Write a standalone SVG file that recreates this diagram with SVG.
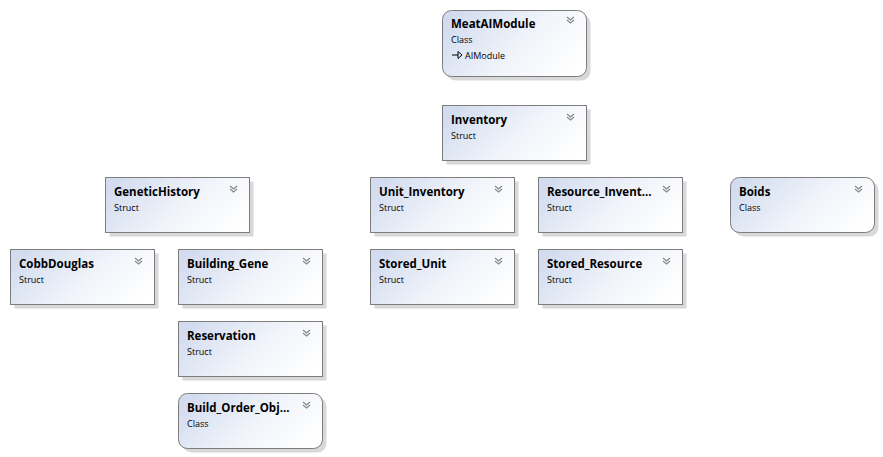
<svg xmlns="http://www.w3.org/2000/svg" width="883" height="457" viewBox="0 0 883 457">
<defs>
<linearGradient id="g" x1="0" y1="0.3" x2="1" y2="0.7">
<stop offset="0" stop-color="#d3dcef"/>
<stop offset="0.55" stop-color="#f1f4fa"/>
<stop offset="1" stop-color="#ffffff"/>
</linearGradient>
<g id="chev">
<path d="M0,0 L3.5,3 L7,0 M0,3 L3.5,6 L7,3" fill="none" stroke="#8a8a8a" stroke-width="1.3"/>
</g>
</defs>
<style>
.sh{fill:#d8d8d8}
.bx{fill:url(#g);stroke:#7d7d7d;stroke-width:1}
.t{font-family:"Open Sans","DejaVu Sans",sans-serif;font-weight:bold;font-size:11.5px;fill:#000}
.s{font-family:"Open Sans","DejaVu Sans",sans-serif;font-size:9px;fill:#000}
</style>
<rect width="883" height="457" fill="#ffffff"/>
<g id="MeatAIModule">
<rect class="sh" x="446.5" y="14.5" width="144" height="66" rx="9"/>
<rect class="bx" x="442.5" y="10.5" width="144" height="66" rx="9"/>
<text class="t" x="451" y="28">MeatAIModule</text>
<text class="s" x="451" y="43">Class</text>
<path d="M452,55 H458 M458,51.5 L462,55 L458,58.5 Z" fill="none" stroke="#000" stroke-width="1"/>
<text class="s" x="465" y="58.5">AIModule</text>
<use href="#chev" x="567" y="17"/>
</g>
<g id="Inventory">
<rect class="sh" x="446.5" y="109.5" width="144" height="55"/>
<rect class="bx" x="442.5" y="105.5" width="144" height="55"/>
<text class="t" x="451" y="124">Inventory</text>
<text class="s" x="451" y="138.5">Struct</text>
<use href="#chev" x="567" y="114"/>
</g>
<g id="GeneticHistory">
<rect class="sh" x="109.5" y="181.5" width="144" height="55"/>
<rect class="bx" x="105.5" y="177.5" width="144" height="55"/>
<text class="t" x="114" y="196">GeneticHistory</text>
<text class="s" x="114" y="210.5">Struct</text>
<use href="#chev" x="230" y="186"/>
</g>
<g id="Unit_Inventory">
<rect class="sh" x="374.5" y="181.5" width="144" height="55"/>
<rect class="bx" x="370.5" y="177.5" width="144" height="55"/>
<text class="t" x="379" y="196">Unit_Inventory</text>
<text class="s" x="379" y="210.5">Struct</text>
<use href="#chev" x="495" y="186"/>
</g>
<g id="Resource_Inventory">
<rect class="sh" x="542.5" y="181.5" width="144" height="55"/>
<rect class="bx" x="538.5" y="177.5" width="144" height="55"/>
<text class="t" x="547" y="196">Resource_Invent...</text>
<text class="s" x="547" y="210.5">Struct</text>
<use href="#chev" x="663" y="186"/>
</g>
<g id="Boids">
<rect class="sh" x="734.5" y="181.5" width="144" height="55" rx="9"/>
<rect class="bx" x="730.5" y="177.5" width="144" height="55" rx="9"/>
<text class="t" x="739" y="196">Boids</text>
<text class="s" x="739" y="210.5">Class</text>
<use href="#chev" x="855" y="186"/>
</g>
<g id="CobbDouglas">
<rect class="sh" x="14.5" y="253.5" width="144" height="55"/>
<rect class="bx" x="10.5" y="249.5" width="144" height="55"/>
<text class="t" x="19" y="268">CobbDouglas</text>
<text class="s" x="19" y="282.5">Struct</text>
<use href="#chev" x="135" y="258"/>
</g>
<g id="Building_Gene">
<rect class="sh" x="182.5" y="253.5" width="144" height="55"/>
<rect class="bx" x="178.5" y="249.5" width="144" height="55"/>
<text class="t" x="187" y="268">Building_Gene</text>
<text class="s" x="187" y="282.5">Struct</text>
<use href="#chev" x="303" y="258"/>
</g>
<g id="Stored_Unit">
<rect class="sh" x="374.5" y="253.5" width="144" height="55"/>
<rect class="bx" x="370.5" y="249.5" width="144" height="55"/>
<text class="t" x="379" y="268">Stored_Unit</text>
<text class="s" x="379" y="282.5">Struct</text>
<use href="#chev" x="495" y="258"/>
</g>
<g id="Stored_Resource">
<rect class="sh" x="542.5" y="253.5" width="144" height="55"/>
<rect class="bx" x="538.5" y="249.5" width="144" height="55"/>
<text class="t" x="547" y="268">Stored_Resource</text>
<text class="s" x="547" y="282.5">Struct</text>
<use href="#chev" x="663" y="258"/>
</g>
<g id="Reservation">
<rect class="sh" x="182.5" y="325.5" width="144" height="55"/>
<rect class="bx" x="178.5" y="321.5" width="144" height="55"/>
<text class="t" x="187" y="340">Reservation</text>
<text class="s" x="187" y="354.5">Struct</text>
<use href="#chev" x="303" y="330"/>
</g>
<g id="Build_Order_Object">
<rect class="sh" x="182.5" y="397.5" width="144" height="55" rx="9"/>
<rect class="bx" x="178.5" y="393.5" width="144" height="55" rx="9"/>
<text class="t" x="187" y="412">Build_Order_Obj...</text>
<text class="s" x="187" y="426.5">Class</text>
<use href="#chev" x="303" y="402"/>
</g>
<g id="connectors"></g>
</svg>
